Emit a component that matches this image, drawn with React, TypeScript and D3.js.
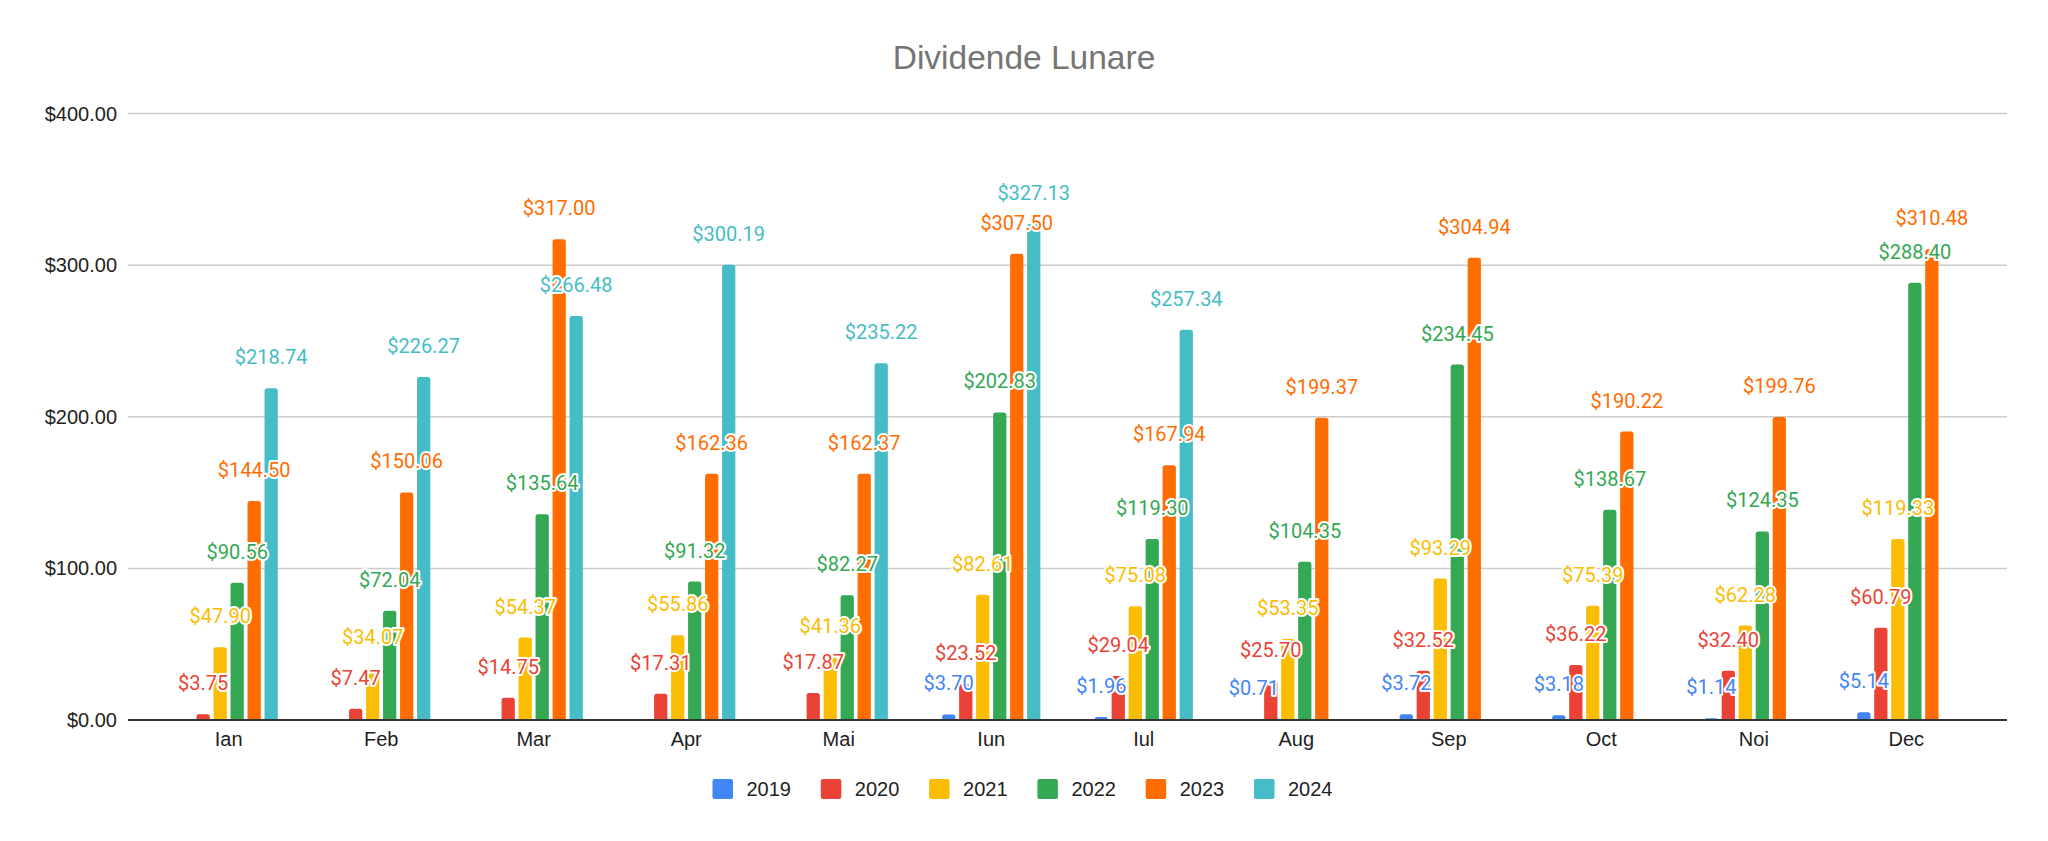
import React from "react";
import * as d3 from "d3";

const months = ["Ian", "Feb", "Mar", "Apr", "Mai", "Iun", "Iul", "Aug", "Sep", "Oct", "Noi", "Dec"];
const years = ["2019", "2020", "2021", "2022", "2023", "2024"];
const colors = ["#4285F4", "#EA4335", "#FBBC04", "#34A853", "#FF6D01", "#46BDC6"];

const v2019: (number | null)[] = [null, null, null, null, null, 3.70, 1.96, 0.71, 3.72, 3.18, 1.14, 5.14];
const v2020: (number | null)[] = [3.75, 7.47, 14.75, 17.31, 17.87, 23.52, 29.04, 25.70, 32.52, 36.22, 32.40, 60.79];
const v2021: (number | null)[] = [47.90, 34.07, 54.37, 55.86, 41.36, 82.61, 75.08, 53.35, 93.29, 75.39, 62.28, 119.33];
const v2022: (number | null)[] = [90.56, 72.04, 135.64, 91.32, 82.27, 202.83, 119.30, 104.35, 234.45, 138.67, 124.35, 288.40];
const v2023: (number | null)[] = [144.50, 150.06, 317.00, 162.36, 162.37, 307.50, 167.94, 199.37, 304.94, 190.22, 199.76, 310.48];
const v2024: (number | null)[] = [218.74, 226.27, 266.48, 300.19, 235.22, 327.13, 257.34, null, null, null, null, null];
const seriesValues = [v2019, v2020, v2021, v2022, v2023, v2024];

const yTicks = [0, 100, 200, 300, 400];
const title = "Dividende Lunare";

const W = 2048;
const H = 841;
const plotLeft = 128;
const plotRight = 2007;
const y0 = 720;
const yTop = 113.5;

const axisFont = "Arial, 'Liberation Sans', sans-serif";
const labelFont = "Roboto, Arial, sans-serif";

function topRoundedBar(x: number, y: number, w: number, h: number, r: number) {
  const rr = Math.min(r, w / 2, h);
  return `M${x},${y + h}V${y + rr}Q${x},${y} ${x + rr},${y}H${x + w - rr}Q${x + w},${y} ${x + w},${y + rr}V${y + h}Z`;
}

export default function App() {
  const x0 = d3.scaleBand<string>().domain(months).range([plotLeft, plotRight]).paddingInner(0).paddingOuter(0.16);
  const groupW = 102;
  const x1 = d3.scaleBand<string>().domain(years).range([-groupW / 2, groupW / 2]).paddingInner(0.22).paddingOuter(0.11);
  const y = d3.scaleLinear().domain([0, 400]).range([y0, yTop]);
  const fmt = d3.format("$,.2f");

  const bars: React.ReactNode[] = [];
  const labels: React.ReactNode[] = [];
  seriesValues.forEach((vals, si) => {
    vals.forEach((v, mi) => {
      if (v == null || v <= 0) return;
      const cx = (x0(months[mi]) as number) + x0.bandwidth() / 2;
      const bx = cx + (x1(years[si]) as number);
      const bw = x1.bandwidth();
      const top = y(v);
      bars.push(
        <path key={`b${si}-${mi}`} d={topRoundedBar(bx, top, bw, y0 - top, 2.5)} fill={colors[si]} />
      );
      labels.push(
        <text
          key={`l${si}-${mi}`}
          x={bx + bw / 2}
          y={top - 24}
          textAnchor="middle"
          fontFamily={labelFont}
          fontSize={20}
          fill={colors[si]}
          stroke="#fff"
          strokeWidth={4}
          strokeLinejoin="round"
          paintOrder="stroke"
        >
          {fmt(v)}
        </text>
      );
    });
  });

  const legendStart = 712.5;
  const legendStep = 108.3;

  return (
    <svg width={W} height={H} style={{ position: "absolute", left: 0, top: 0, display: "block", background: "#fff" }}>
      <rect x={0} y={0} width={W} height={H} fill="#fff" />
      <text x={1024} y={69} textAnchor="middle" fontFamily={axisFont} fontSize={33.5} fill="#757575">
        {title}
      </text>
      {yTicks.filter((t) => t > 0).map((t) => (
        <line key={`g${t}`} x1={plotLeft} x2={plotRight} y1={y(t)} y2={y(t)} stroke="#cccccc" strokeWidth={1.5} />
      ))}
      {yTicks.map((t) => (
        <text key={`yt${t}`} x={117} y={y(t)} dy="0.35em" textAnchor="end" fontFamily={axisFont} fontSize={20} fill="#222">
          {fmt(t)}
        </text>
      ))}
      {bars}
      <line x1={plotLeft} x2={plotRight} y1={y0} y2={y0} stroke="#333" strokeWidth={2} />
      {months.map((m) => (
        <text
          key={`xm${m}`}
          x={(x0(m) as number) + x0.bandwidth() / 2}
          y={746}
          textAnchor="middle"
          fontFamily={axisFont}
          fontSize={20}
          fill="#222"
        >
          {m}
        </text>
      ))}
      {labels}
      {years.map((yr, i) => {
        const lx = legendStart + i * legendStep;
        return (
          <g key={`lg${yr}`}>
            <rect x={lx} y={779} width={20.5} height={20} rx={2} fill={colors[i]} />
            <text x={lx + 34} y={796} fontFamily={axisFont} fontSize={20} fill="#222">
              {yr}
            </text>
          </g>
        );
      })}
    </svg>
  );
}
